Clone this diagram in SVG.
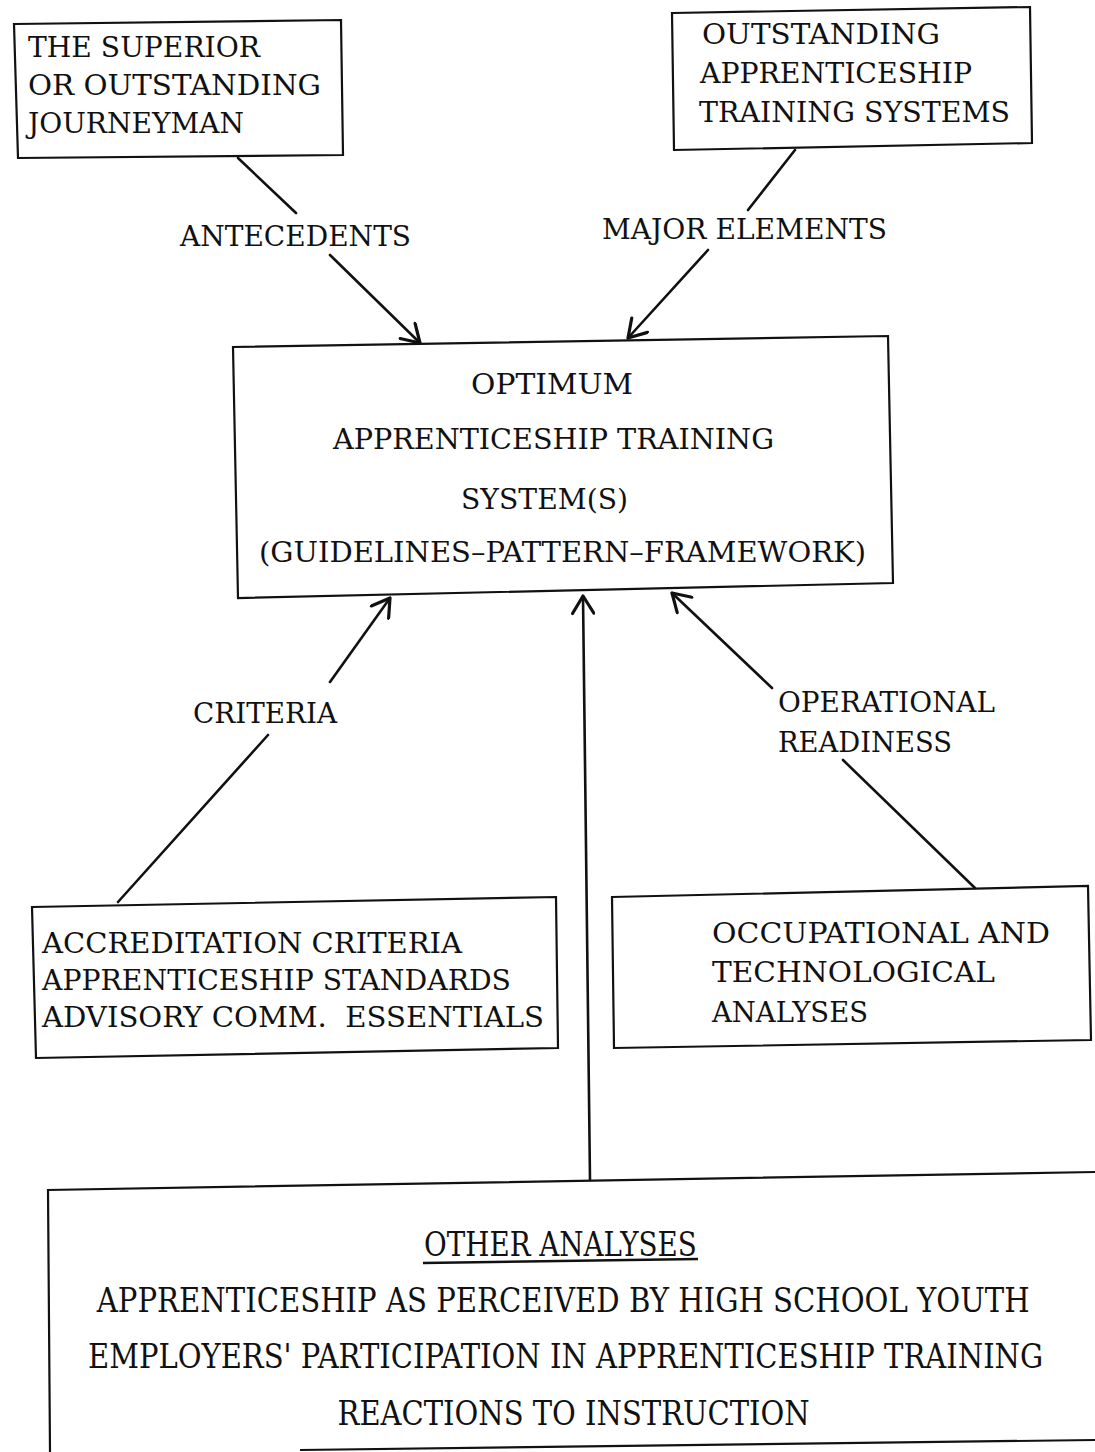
<svg xmlns="http://www.w3.org/2000/svg" width="1095" height="1452" viewBox="0 0 1095 1452">
<style>
.box{fill:none;stroke:#111;stroke-width:2.2;stroke-linejoin:miter}
.t{font-family:"DejaVu Serif","Liberation Serif",serif;font-size:27px;fill:#111}
.b{font-family:"DejaVu Serif","Liberation Serif",serif;font-size:33px;fill:#111}
.c{fill:none;stroke:#111;stroke-width:2.6;stroke-linecap:round}
</style>
<defs>
<marker id="arr" markerUnits="userSpaceOnUse" markerWidth="24" markerHeight="24" viewBox="-14 -9 16 18" refX="0" refY="0" orient="auto">
<path d="M-13,-8 L0,0 L-13,8" fill="none" stroke="#111" stroke-width="2.4" stroke-linecap="round" stroke-linejoin="round"/>
</marker>
</defs>
<rect width="1095" height="1452" fill="#fff"/>

<g id="connectors">
<line class="c" x1="238" y1="158" x2="296" y2="213"/>
<line class="c" x1="330" y1="255" x2="420" y2="343" marker-end="url(#arr)"/>
<line class="c" x1="795" y1="150" x2="748" y2="210"/>
<line class="c" x1="708" y1="250" x2="628" y2="338" marker-end="url(#arr)"/>
<line class="c" x1="118" y1="902" x2="268" y2="735"/>
<line class="c" x1="330" y1="682" x2="390" y2="598" marker-end="url(#arr)"/>
<line class="c" x1="590" y1="1180" x2="583" y2="596" marker-end="url(#arr)"/>
<line class="c" x1="975" y1="888" x2="843" y2="760"/>
<line class="c" x1="772" y1="688" x2="672" y2="593" marker-end="url(#arr)"/>
</g>

<g id="node-journeyman">
<polygon class="box" points="14,24 341,20 343,155 18,158"/>
<text class="t" x="28" y="57" textLength="232" lengthAdjust="spacingAndGlyphs">THE SUPERIOR</text>
<text class="t" x="28" y="95" textLength="293" lengthAdjust="spacingAndGlyphs">OR OUTSTANDING</text>
<text class="t" x="28" y="133" textLength="216" lengthAdjust="spacingAndGlyphs">JOURNEYMAN</text>
</g>

<g id="node-outstanding-systems">
<polygon class="box" points="672,13 1030,7 1032,143 674,150"/>
<text class="t" x="702" y="44" textLength="238" lengthAdjust="spacingAndGlyphs">OUTSTANDING</text>
<text class="t" x="700" y="83" textLength="272" lengthAdjust="spacingAndGlyphs">APPRENTICESHIP</text>
<text class="t" x="699" y="122" textLength="311" lengthAdjust="spacingAndGlyphs">TRAINING SYSTEMS</text>
</g>

<g id="label-antecedents">
<text class="t" x="180" y="246" textLength="231" lengthAdjust="spacingAndGlyphs">ANTECEDENTS</text>
</g>
<g id="label-major-elements">
<text class="t" x="602" y="239" textLength="285" lengthAdjust="spacingAndGlyphs">MAJOR ELEMENTS</text>
</g>

<g id="node-optimum">
<polygon class="box" points="233,347 888,336 893,583 238,598"/>
<text class="t" x="471" y="394" textLength="162" lengthAdjust="spacingAndGlyphs">OPTIMUM</text>
<text class="t" x="333" y="449" textLength="441" lengthAdjust="spacingAndGlyphs">APPRENTICESHIP TRAINING</text>
<text class="t" x="461" y="509" textLength="167" lengthAdjust="spacingAndGlyphs">SYSTEM(S)</text>
<text class="t" x="259" y="562" textLength="607" lengthAdjust="spacingAndGlyphs">(GUIDELINES–PATTERN–FRAMEWORK)</text>
</g>

<g id="label-criteria">
<text class="t" x="193" y="723" textLength="144" lengthAdjust="spacingAndGlyphs">CRITERIA</text>
</g>
<g id="label-operational-readiness">
<text class="t" x="778" y="712" textLength="217" lengthAdjust="spacingAndGlyphs">OPERATIONAL</text>
<text class="t" x="778" y="752" textLength="174" lengthAdjust="spacingAndGlyphs">READINESS</text>
</g>

<g id="node-accreditation">
<polygon class="box" points="32,907 556,897 558,1048 36,1058"/>
<text class="t" x="42" y="953" textLength="420" lengthAdjust="spacingAndGlyphs">ACCREDITATION CRITERIA</text>
<text class="t" x="42" y="990" textLength="469" lengthAdjust="spacingAndGlyphs">APPRENTICESHIP STANDARDS</text>
<text class="t" x="42" y="1027" textLength="502" lengthAdjust="spacingAndGlyphs" xml:space="preserve">ADVISORY COMM.  ESSENTIALS</text>
</g>

<g id="node-occupational">
<polygon class="box" points="612,897 1088,886 1091,1040 614,1048"/>
<text class="t" x="712" y="943" textLength="338" lengthAdjust="spacingAndGlyphs">OCCUPATIONAL AND</text>
<text class="t" x="712" y="982" textLength="283" lengthAdjust="spacingAndGlyphs">TECHNOLOGICAL</text>
<text class="t" x="712" y="1022" textLength="156" lengthAdjust="spacingAndGlyphs">ANALYSES</text>
</g>

<g id="node-other-analyses">
<polyline class="box" points="1095,1172 48,1190 50,1452"/>
<line class="box" x1="300" y1="1450" x2="1095" y2="1440"/>
<line x1="423" y1="1263" x2="698" y2="1259" stroke="#111" stroke-width="2.5"/>
<g transform="scale(0.8,1)">
<text class="b" x="530" y="1256" textLength="341" lengthAdjust="spacingAndGlyphs">OTHER ANALYSES</text>
<text class="b" x="121" y="1312" textLength="1166" lengthAdjust="spacingAndGlyphs">APPRENTICESHIP AS PERCEIVED BY HIGH SCHOOL YOUTH</text>
<text class="b" x="110" y="1368" textLength="1194" lengthAdjust="spacingAndGlyphs">EMPLOYERS' PARTICIPATION IN APPRENTICESHIP TRAINING</text>
<text class="b" x="422" y="1425" textLength="590" lengthAdjust="spacingAndGlyphs">REACTIONS TO INSTRUCTION</text>
</g>
</g>
</svg>
